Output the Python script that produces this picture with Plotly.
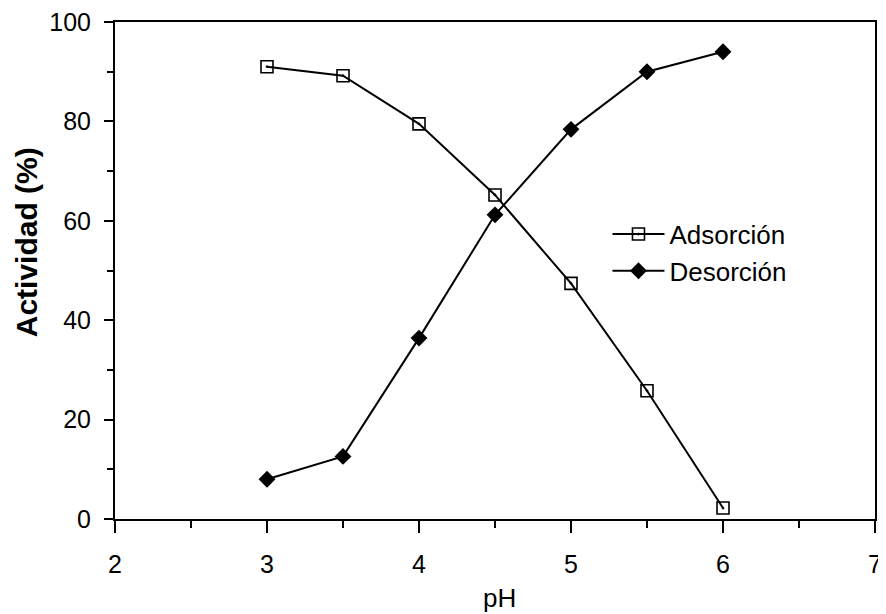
import plotly.graph_objects as go

ph = [3, 3.5, 4, 4.5, 5, 5.5, 6]
adsorcion = [91, 89.2, 79.5, 65.2, 47.4, 25.8, 2.2]
desorcion = [8, 12.6, 36.4, 61.2, 78.4, 90, 94]

x_ticks = [2, 3, 4, 5, 6, 7]
x_minor = [2.5, 3.5, 4.5, 5.5, 6.5]
y_ticks = [0, 20, 40, 60, 80, 100]
y_minor = [10, 30, 50, 70, 90]

fig = go.Figure()
fig.add_trace(go.Scatter(
    x=ph, y=adsorcion, name="Adsorción", mode="lines+markers",
    line=dict(color="black", width=2),
    marker=dict(symbol="square-open-dot", size=12, color="black", line=dict(width=1.6)),
))
fig.add_trace(go.Scatter(
    x=ph, y=desorcion, name="Desorción", mode="lines+markers",
    line=dict(color="black", width=2),
    marker=dict(symbol="diamond", size=13, color="black"),
))

fam = "Liberation Sans, Arial, sans-serif"
tickfont = dict(family=fam, size=25, color="black")
fig.update_layout(
    width=878, height=606,
    margin=dict(l=107, r=11, t=14, b=95),
    paper_bgcolor="white", plot_bgcolor="white",
    font=dict(family=fam, size=25, color="black"),
    showlegend=True,
    legend=dict(x=0.648, y=0.536, xanchor="left", yanchor="middle",
                bgcolor="rgba(0,0,0,0)", font=dict(family=fam, size=26, color="black"),
                itemwidth=52, tracegroupgap=0),
    xaxis=dict(
        range=[2, 7], tickvals=x_ticks, showgrid=False, zeroline=False,
        automargin=False, tickfont=tickfont, ticklabelstandoff=10,
        ticklabeloverflow="allow",
        showline=True, linecolor="black", linewidth=2, mirror=True,
        ticks="outside", ticklen=12, tickwidth=2, tickcolor="black",
        minor=dict(tickvals=x_minor, ticks="outside", ticklen=7, tickwidth=2, tickcolor="black"),
    ),
    yaxis=dict(
        range=[0, 100], tickvals=y_ticks, showgrid=False, zeroline=False,
        automargin=False, tickfont=tickfont, ticklabelstandoff=8,
        ticklabeloverflow="allow",
        showline=True, linecolor="black", linewidth=2, mirror=True,
        ticks="outside", ticklen=9, tickwidth=2, tickcolor="black",
        minor=dict(tickvals=y_minor, ticks="outside", ticklen=6, tickwidth=2, tickcolor="black"),
    ),
    annotations=[
        dict(text="pH", xref="paper", yref="paper", x=0.506, y=-0.159,
             xanchor="center", yanchor="middle", showarrow=False,
             font=dict(family=fam, size=26, color="black")),
        dict(text="<b>Actividad (%)</b>", xref="paper", yref="paper", x=-0.117, y=0.557,
             xanchor="center", yanchor="middle", showarrow=False, textangle=-90,
             font=dict(family=fam, size=30, color="black")),
    ],
)

fig.write_html("out.html")
